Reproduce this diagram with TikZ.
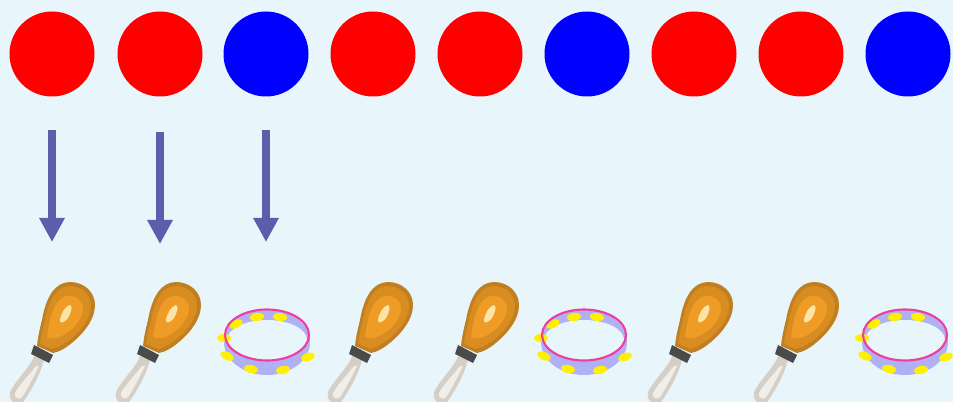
\documentclass[tikz,border=0pt]{standalone}
\usetikzlibrary{arrows.meta}
\definecolor{bgc}{HTML}{E8F6FC}
\definecolor{redc}{HTML}{FF0000}
\definecolor{bluec}{HTML}{0000FF}
\definecolor{arrowc}{HTML}{5B5FAB}
\definecolor{orgA}{HTML}{BF7F22}
\definecolor{orgB}{HTML}{D98C1F}
\definecolor{orgC}{HTML}{EE9C25}
\definecolor{hiC}{HTML}{FCE3A8}
\definecolor{bandc}{HTML}{4A4A4A}
\definecolor{handA}{HTML}{D6CFC8}
\definecolor{handB}{HTML}{F1EEEA}
\definecolor{lavc}{HTML}{B0B0F4}
\definecolor{pinkc}{HTML}{EE3E9E}
\definecolor{yelc}{HTML}{FFF000}
\tikzset{
  x=0.75pt,y=-0.75pt,
  dotnode/.style={circle,minimum size=63.75pt,inner sep=0pt,outer sep=0pt,fill=#1},
  flow/.style={draw=arrowc,line width=6pt,-{Triangle[width=18pt,length=18pt,fill=arrowc]}},
  maraca/.pic={
    % handle (coordinates relative to the instrument's centre 52,342)
    \fill[handA] (-18,14) .. controls (-22,26) and (-35,36) .. (-42,50) .. controls (-44,60) and (-36,63) .. (-29,60)
       .. controls (-23,52) and (-13,36) .. (-8,18) -- cycle;
    \fill[handB] (-16,24) .. controls (-22,32) and (-32,42) .. (-37,51) .. controls (-38,56) and (-33,58) .. (-30,55)
       .. controls (-25,48) and (-18,34) .. (-13,24) -- cycle;
    % head
    \fill[orgA] (-15,4) .. controls (-14,-6) and (-12,-14) .. (-10,-22) .. controls (-6,-45) and (3,-60) .. (18,-60)
       .. controls (32,-60) and (43,-50) .. (43,-37) .. controls (43,-24) and (34,-11) .. (21,0)
       .. controls (14,6) and (7,10) .. (1,11) -- cycle;
    \fill[orgB] (-12,2) .. controls (-11,-6) and (-9,-14) .. (-7,-22) .. controls (-3,-43) and (5,-56) .. (18,-56)
       .. controls (30,-56) and (39,-47) .. (39,-36) .. controls (39,-25) and (31,-13) .. (19,-3)
       .. controls (12,2) and (5,6) .. (0,7) -- cycle;
    \fill[orgC] (-5,-5) .. controls (-3,-20) and (1,-46) .. (17,-46) .. controls (27,-46) and (32,-38) .. (31,-31)
       .. controls (29,-22) and (22,-13) .. (13,-8) .. controls (6,-4) and (2,-2) .. (-5,-5) -- cycle;
    \fill[hiC] (8,-21) .. controls (8,-27) and (13,-36) .. (18,-37) .. controls (21,-36) and (19,-29) .. (16,-24)
       .. controls (13,-20) and (9,-18) .. (8,-21) -- cycle;
    % collar
    \fill[bandc] (-18,3) -- (1,13) -- (-3,21) -- (-21,12) -- cycle;
  },
  tambourine/.pic={
    % relative to the ring's centre
    \fill[lavc] (0,7) ellipse [x radius=43,y radius=33];
    \fill[bgc] (0,5) ellipse [x radius=40,y radius=20];
    \foreach \px/\py/\rot in {-10/-18/8, 13/-18/-8, -31/-11/25, -43/3/0, -40/21/-25, -16/34/-12, 16/35/12, 41/22/20}{
      \fill[yelc,rotate around={\rot:(\px,\py)}] (\px,\py) ellipse [x radius=7,y radius=4];
    }
    \draw[pinkc,line width=1.6pt] (0,0) ellipse [x radius=42,y radius=25.5];
  }
}
\begin{document}
\begin{tikzpicture}
\useasboundingbox (0,0) rectangle (953,402);
\fill[bgc] (0,0) rectangle (953,402);
% top row
\node[dotnode=redc]  (d1) at (52,54) {};
\node[dotnode=redc]  (d2) at (160,54) {};
\node[dotnode=bluec] (d3) at (266,54) {};
\node[dotnode=redc]  (d4) at (373,54) {};
\node[dotnode=redc]  (d5) at (480,54) {};
\node[dotnode=bluec] (d6) at (587,54) {};
\node[dotnode=redc]  (d7) at (694,54) {};
\node[dotnode=redc]  (d8) at (801,54) {};
\node[dotnode=bluec] (d9) at (908,54) {};
% arrow ends
\coordinate (s1) at (52,130);  \coordinate (e1) at (52,242);
\coordinate (s2) at (160,132); \coordinate (e2) at (160,244);
\coordinate (s3) at (266,130); \coordinate (e3) at (266,242);
\draw[flow] (s1) -- (e1);
\draw[flow] (s2) -- (e2);
\draw[flow] (s3) -- (e3);
% instruments
\pic at (52,342) {maraca};
\pic at (158,342) {maraca};
\pic at (370,342) {maraca};
\pic at (476,342) {maraca};
\pic at (690,342) {maraca};
\pic at (796,342) {maraca};
\pic at (267,335) {tambourine};
\pic at (584,335) {tambourine};
\pic at (905,335) {tambourine};
\end{tikzpicture}
\end{document}
